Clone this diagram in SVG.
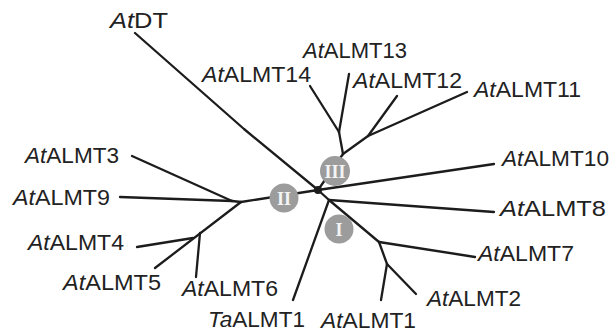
<svg xmlns="http://www.w3.org/2000/svg" width="613" height="333" viewBox="0 0 613 333">
<style>
.l{fill:none;stroke:#1c1c1c;stroke-width:2.3;stroke-linecap:round;stroke-linejoin:round}
.t{font-family:"Liberation Sans",Arial,sans-serif;font-size:21.5px;fill:#222222}
.i{font-style:italic}
.c{fill:#9c9c9c}
.n{font-family:"Liberation Serif","Times New Roman",serif;font-size:18px;font-weight:bold;fill:#f4f4f4;text-anchor:middle}
</style>
<rect width="613" height="333" fill="#ffffff"/>
<g id="connectors">
<polyline class="l" points="135,33 244,129 318,190"/>
<line class="l" x1="241" y1="202" x2="318" y2="190"/>
<line class="l" x1="132" y1="156" x2="232" y2="201"/>
<line class="l" x1="120" y1="197" x2="232" y2="201"/>
<line class="l" x1="232" y1="201" x2="241" y2="202"/>
<line class="l" x1="241" y1="202" x2="155" y2="268"/>
<line class="l" x1="200" y1="233" x2="196" y2="277"/>
<line class="l" x1="193" y1="238" x2="137" y2="247"/>
<line class="l" x1="318" y1="190" x2="343" y2="154"/>
<polyline class="l" points="343,154 368,136 467,92"/>
<line class="l" x1="368" y1="136" x2="397" y2="96"/>
<line class="l" x1="343" y1="154" x2="339" y2="132"/>
<line class="l" x1="339" y1="132" x2="310" y2="86"/>
<line class="l" x1="339" y1="132" x2="349" y2="74"/>
<line class="l" x1="318" y1="190" x2="494" y2="164"/>
<line class="l" x1="318" y1="190" x2="329" y2="200"/>
<line class="l" x1="329" y1="200" x2="494" y2="212"/>
<line class="l" x1="329" y1="200" x2="293" y2="300"/>
<line class="l" x1="329" y1="200" x2="379" y2="242"/>
<line class="l" x1="379" y1="242" x2="475" y2="257"/>
<line class="l" x1="379" y1="242" x2="387" y2="264"/>
<line class="l" x1="387" y1="264" x2="381" y2="300"/>
<line class="l" x1="387" y1="264" x2="416" y2="294"/>
<circle cx="318" cy="190" r="4" fill="#1c1c1c"/>
</g>
<g id="clade-II"><circle class="c" cx="284" cy="198" r="14.5"/><text class="n" x="284" y="204.5">II</text></g>
<g id="clade-III"><circle class="c" cx="335" cy="171" r="15"/><text class="n" x="335" y="177.5">III</text></g>
<g id="clade-I"><circle class="c" cx="339" cy="229" r="14.5"/><text class="n" x="339" y="235.5">I</text></g>
<g id="AtDT"><text class="t" x="110" y="28" textLength="58" lengthAdjust="spacingAndGlyphs"><tspan class="i">At</tspan>DT</text></g>
<g id="AtALMT14"><text class="t" x="202" y="82" textLength="109" lengthAdjust="spacingAndGlyphs"><tspan class="i">At</tspan>ALMT14</text></g>
<g id="AtALMT13"><text class="t" x="303" y="58" textLength="104" lengthAdjust="spacingAndGlyphs"><tspan class="i">At</tspan>ALMT13</text></g>
<g id="AtALMT12"><text class="t" x="353" y="88" textLength="109" lengthAdjust="spacingAndGlyphs"><tspan class="i">At</tspan>ALMT12</text></g>
<g id="AtALMT11"><text class="t" x="474" y="97" textLength="107" lengthAdjust="spacingAndGlyphs"><tspan class="i">At</tspan>ALMT11</text></g>
<g id="AtALMT10"><text class="t" x="502" y="166" textLength="107" lengthAdjust="spacingAndGlyphs"><tspan class="i">At</tspan>ALMT10</text></g>
<g id="AtALMT8"><text class="t" x="500" y="216" textLength="106" lengthAdjust="spacingAndGlyphs"><tspan class="i">At</tspan>ALMT8</text></g>
<g id="AtALMT7"><text class="t" x="478" y="261" textLength="96" lengthAdjust="spacingAndGlyphs"><tspan class="i">At</tspan>ALMT7</text></g>
<g id="AtALMT2"><text class="t" x="427" y="306" textLength="94" lengthAdjust="spacingAndGlyphs"><tspan class="i">At</tspan>ALMT2</text></g>
<g id="AtALMT1"><text class="t" x="321" y="328" textLength="95" lengthAdjust="spacingAndGlyphs"><tspan class="i">At</tspan>ALMT1</text></g>
<g id="TaALMT1"><text class="t" x="208" y="327" textLength="97" lengthAdjust="spacingAndGlyphs"><tspan class="i">Ta</tspan>ALMT1</text></g>
<g id="AtALMT6"><text class="t" x="182" y="296" textLength="96" lengthAdjust="spacingAndGlyphs"><tspan class="i">At</tspan>ALMT6</text></g>
<g id="AtALMT5"><text class="t" x="63" y="290" textLength="98" lengthAdjust="spacingAndGlyphs"><tspan class="i">At</tspan>ALMT5</text></g>
<g id="AtALMT4"><text class="t" x="28" y="250" textLength="96" lengthAdjust="spacingAndGlyphs"><tspan class="i">At</tspan>ALMT4</text></g>
<g id="AtALMT9"><text class="t" x="13" y="205" textLength="97" lengthAdjust="spacingAndGlyphs"><tspan class="i">At</tspan>ALMT9</text></g>
<g id="AtALMT3"><text class="t" x="25" y="163" textLength="94" lengthAdjust="spacingAndGlyphs"><tspan class="i">At</tspan>ALMT3</text></g>
</svg>
